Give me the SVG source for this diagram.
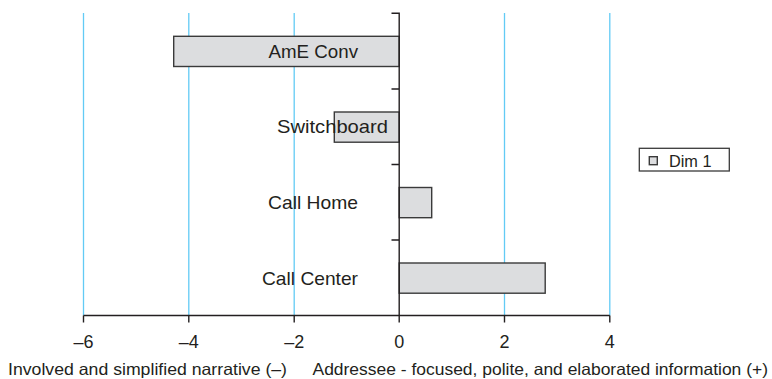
<svg xmlns="http://www.w3.org/2000/svg" width="772" height="379" viewBox="0 0 772 379">
  <style>
    .grid { stroke: #62cbf5; stroke-width: 1.3; }
    .axis { stroke: #231f20; stroke-width: 1.4; fill: none; }
    .bar { fill: #dcdddf; stroke: #3a3a3a; stroke-width: 1.4; }
    .lbl { font-family: "Liberation Sans", Arial, sans-serif; font-size: 19px; fill: #231f20; }
    .tick { font-family: "Liberation Sans", Arial, sans-serif; font-size: 18px; fill: #231f20; text-anchor: middle; }
    .cap { font-family: "Liberation Sans", Arial, sans-serif; font-size: 16.5px; fill: #231f20; }
  </style>
  <rect width="772" height="379" fill="#ffffff"/>

  <!-- vertical grid lines at -6, -4, -2, 2, 4 -->
  <g id="gridlines">
    <line class="grid" x1="83.5" y1="13" x2="83.5" y2="315.5"/>
    <line class="grid" x1="188.8" y1="13" x2="188.8" y2="315.5"/>
    <line class="grid" x1="294.2" y1="13" x2="294.2" y2="315.5"/>
    <line class="grid" x1="504.5" y1="13" x2="504.5" y2="315.5"/>
    <line class="grid" x1="609.8" y1="13" x2="609.8" y2="315.5"/>
  </g>

  <!-- bars -->
  <g id="bar-ame-conv"><rect class="bar" x="173.7" y="36.3" width="225.5" height="30.2"/></g>
  <g id="bar-switchboard"><rect class="bar" x="334.3" y="112" width="64.9" height="30.2"/></g>
  <g id="bar-call-home"><rect class="bar" x="399.2" y="187.5" width="32.5" height="30.2"/></g>
  <g id="bar-call-center"><rect class="bar" x="399.2" y="263" width="146" height="30.2"/></g>

  <!-- axes and ticks -->
  <g id="axes">
    <path class="axis" d="M391.5 13.3H399.2V315.5M391.5 89H399.2M391.5 164.5H399.2M391.5 240H399.2"/>
    <path class="axis" d="M83.5 315.5H609.8M83.5 315.5V322.5M188.8 315.5V322.5M294.2 315.5V322.5M399.2 315.5V322.5M504.5 315.5V322.5M609.8 315.5V322.5"/>
  </g>

  <!-- category labels -->
  <g id="labels">
    <text class="lbl" x="358" y="58.3" text-anchor="end" textLength="89.5" lengthAdjust="spacingAndGlyphs">AmE Conv</text>
    <text class="lbl" x="388" y="132.7" text-anchor="end" textLength="111" lengthAdjust="spacingAndGlyphs">Switchboard</text>
    <text class="lbl" x="358" y="209" text-anchor="end" textLength="90" lengthAdjust="spacingAndGlyphs">Call Home</text>
    <text class="lbl" x="358" y="285" text-anchor="end" textLength="96" lengthAdjust="spacingAndGlyphs">Call Center</text>
  </g>

  <!-- tick values -->
  <g id="tick-values">
    <text class="tick" x="83.5" y="347.5">–6</text>
    <text class="tick" x="188.8" y="347.5">–4</text>
    <text class="tick" x="294.2" y="347.5">–2</text>
    <text class="tick" x="399.2" y="347.5">0</text>
    <text class="tick" x="504.5" y="347.5">2</text>
    <text class="tick" x="609.8" y="347.5">4</text>
  </g>

  <!-- axis captions -->
  <g id="captions">
    <text class="cap" x="8" y="374.5" textLength="279" lengthAdjust="spacingAndGlyphs">Involved and simplified narrative (–)</text>
    <text class="cap" x="312.5" y="374.5" textLength="455.5" lengthAdjust="spacingAndGlyphs">Addressee - focused, polite, and elaborated information (+)</text>
  </g>

  <!-- legend -->
  <g id="legend">
    <rect x="639.3" y="148.3" width="90" height="22.7" fill="#ffffff" stroke="#3a3a3a" stroke-width="1.3"/>
    <rect class="bar" x="649.3" y="156.7" width="8" height="8" stroke-width="1.2"/>
    <text class="cap" x="669" y="166.5" textLength="42.5" lengthAdjust="spacingAndGlyphs" style="font-size:16px">Dim 1</text>
  </g>
</svg>
